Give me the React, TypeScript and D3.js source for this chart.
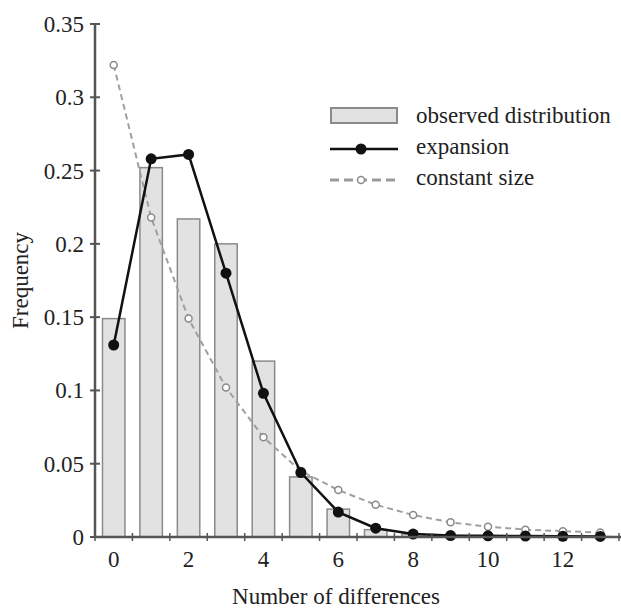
import React from "react";
import * as d3 from "d3";

const categories = [0, 1, 2, 3, 4, 5, 6, 7, 8, 9, 10, 11, 12, 13];
const observed = [0.149, 0.252, 0.217, 0.2, 0.12, 0.041, 0.019, 0.005, 0.002, 0.001, 0.0008, 0.0005, 0.0004, 0.0003];
const expansion = [0.131, 0.258, 0.261, 0.18, 0.098, 0.044, 0.017, 0.006, 0.002, 0.001, 0.0008, 0.0006, 0.0005, 0.0004];
const constantSize = [0.322, 0.218, 0.149, 0.102, 0.068, 0.045, 0.032, 0.022, 0.015, 0.01, 0.007, 0.005, 0.004, 0.003];
const yTicks = [0, 0.05, 0.1, 0.15, 0.2, 0.25, 0.3, 0.35];
const yTickLabels = ["0", "0.05", "0.1", "0.15", "0.2", "0.25", "0.3", "0.35"];
const xTickLabels = [0, 2, 4, 6, 8, 10, 12];
const legendLabels = ["observed distribution", "expansion", "constant size"];

const W = 621, H = 608;
const FONT = "'Liberation Serif', 'Times New Roman', serif";
const FS = 23;

export default function App() {
  const x = d3.scaleLinear().domain([-0.5, 13.5]).range([95, 619]);
  const y = d3.scaleLinear().domain([0, 0.35]).range([537, 24]);
  const bw = 0.6 * (x(1) - x(0));
  const lineGen = d3.line<number>().x((_, i) => x(categories[i])).y((v) => y(v));
  const halfTicks = d3.range(-0.5, 13.51, 1);

  return (
    <svg width={W} height={H} style={{ position: "absolute", left: 0, top: 0, background: "#fff" }}>
      {/* bars */}
      {observed.map((v, i) => (
        <rect key={i} x={x(categories[i]) - bw / 2} y={y(v)} width={bw} height={y(0) - y(v)}
          fill="#e2e2e2" stroke="#8a8a8a" strokeWidth={1.5} />
      ))}
      {/* constant size line */}
      <path d={lineGen(constantSize) || ""} fill="none" stroke="#a0a0a0" strokeWidth={2} strokeDasharray="6,4" />
      {constantSize.map((v, i) => (
        <circle key={i} cx={x(categories[i])} cy={y(v)} r={3.5} fill="#fff" stroke="#8a8a8a" strokeWidth={1.5} />
      ))}
      {/* expansion line */}
      <path d={lineGen(expansion) || ""} fill="none" stroke="#111" strokeWidth={2.5} />
      {expansion.map((v, i) => (
        <circle key={i} cx={x(categories[i])} cy={y(v)} r={5.5} fill="#111" />
      ))}
      {/* y axis */}
      <line x1={95} x2={95} y1={y(0.35)} y2={y(0)} stroke="#555" strokeWidth={2.5} />
      {yTicks.map((t, i) => (
        <g key={i}>
          <line x1={90} x2={100} y1={y(t)} y2={y(t)} stroke="#555" strokeWidth={2} />
          <text x={84} y={y(t)} dy="0.35em" textAnchor="end" fontFamily={FONT} fontSize={FS} fill="#222">
            {yTickLabels[i]}
          </text>
        </g>
      ))}
      {/* x axis */}
      <line x1={95} x2={621} y1={y(0)} y2={y(0)} stroke="#555" strokeWidth={2.5} />
      {halfTicks.map((t, i) => (
        <line key={i} x1={x(t)} x2={x(t)} y1={y(0) - 4} y2={y(0) + 4} stroke="#555" strokeWidth={1.5} />
      ))}
      {xTickLabels.map((t) => (
        <text key={t} x={x(t)} y={567} textAnchor="middle" fontFamily={FONT} fontSize={FS} fill="#222">{t}</text>
      ))}
      <text x={336} y={604} textAnchor="middle" fontFamily={FONT} fontSize={FS} fill="#222">Number of differences</text>
      <text transform={`translate(28,${y(0.175)}) rotate(-90)`} textAnchor="middle" fontFamily={FONT} fontSize={FS} fill="#222">Frequency</text>
      {/* legend */}
      <rect x={331} y={108} width={66} height={15} fill="#e2e2e2" stroke="#8a8a8a" strokeWidth={2} />
      <line x1={330} x2={398} y1={149} y2={149} stroke="#111" strokeWidth={2.5} />
      <circle cx={361} cy={149} r={5.5} fill="#111" />
      <line x1={330} x2={398} y1={180} y2={180} stroke="#9a9a9a" strokeWidth={3} strokeDasharray="9,5" />
      <circle cx={361} cy={180} r={3.5} fill="#fff" stroke="#8a8a8a" strokeWidth={1.5} />
      {legendLabels.map((l, i) => (
        <text key={l} x={416} y={123 + i * 31} fontFamily={FONT} fontSize={FS} fill="#222">{l}</text>
      ))}
    </svg>
  );
}
